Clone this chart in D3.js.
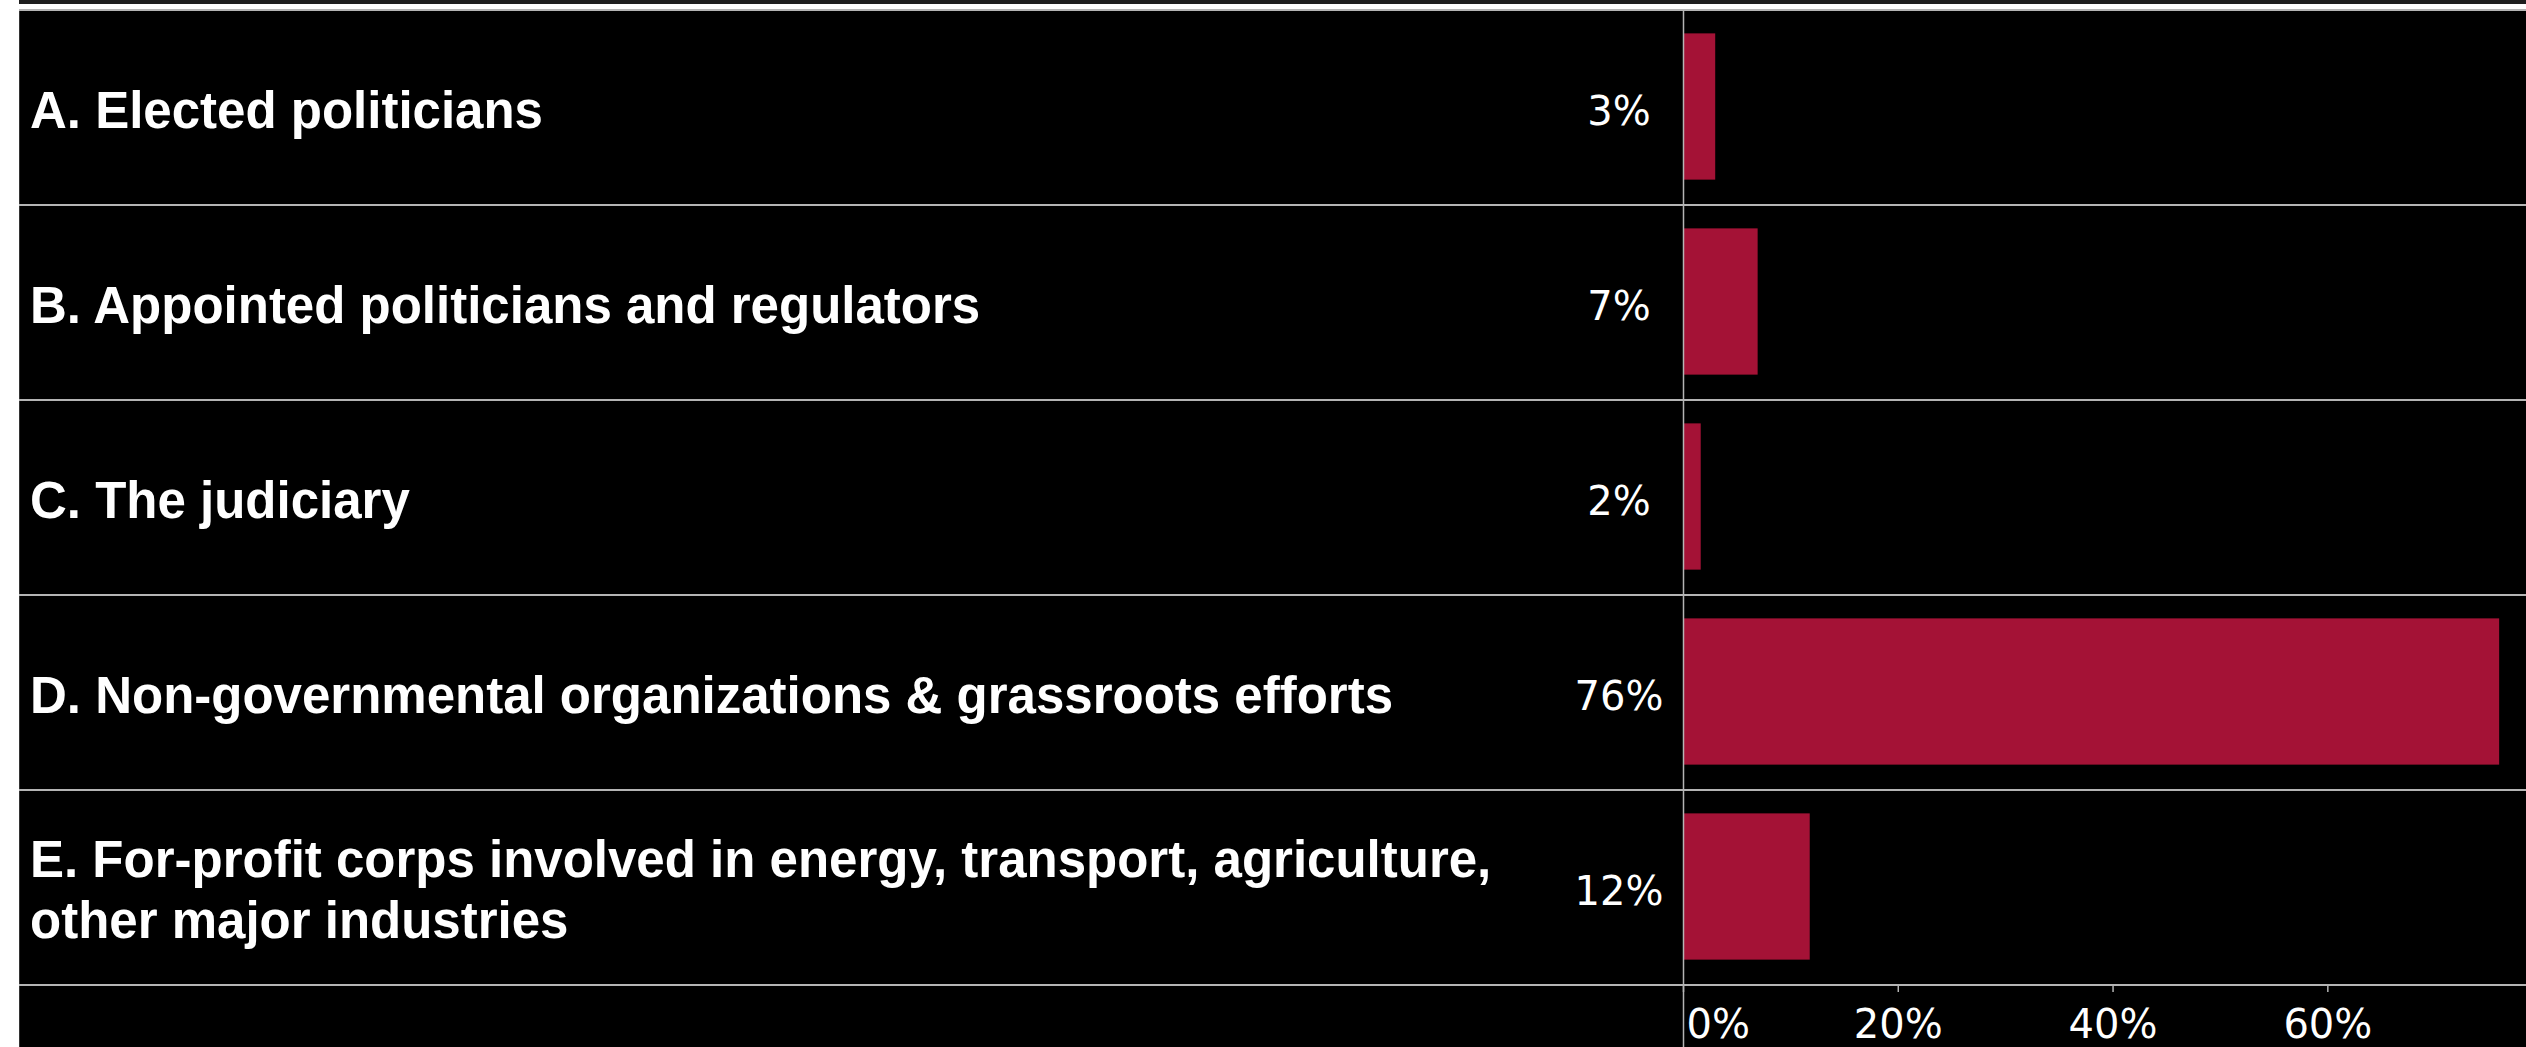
<!DOCTYPE html>
<html>
<head>
<meta charset="utf-8">
<script src="https://cdn.jsdelivr.net/npm/d3@7"></script>
<style>
  html, body { margin: 0; padding: 0; background: #ffffff; overflow: hidden; }
  svg { display: block; }
</style>
</head>
<body>
<svg id="chart" width="2526" height="1047"></svg>
<script>
// ---- data ----
const categories = ["A", "B", "C", "D", "E"];
const labels = [
  ["A. Elected politicians"],
  ["B. Appointed politicians and regulators"],
  ["C. The judiciary"],
  ["D. Non-governmental organizations & grassroots efforts"],
  ["E. For-profit corps involved in energy, transport, agriculture,", "other major industries"]
];
const values = [0.030, 0.0695, 0.0165, 0.760, 0.118];
const tickValues = [0, 0.2, 0.4, 0.6];

(function () {
  // ---- layout ----
  const W = 2526, H = 1047;
  const padLeft = 19, padTop = 10, rowsBottom = 985;
  const axisX = 1683;
  const pctCenter = 1619;

  const svg = d3.select("#chart");

  // background panels
  svg.append("rect").attr("x", padLeft).attr("y", 0).attr("width", W - padLeft).attr("height", 4).attr("fill", "#1e1e1e");
  svg.append("rect").attr("x", padLeft).attr("y", padTop).attr("width", W - padLeft).attr("height", H - padTop).attr("fill", "#000000");
  svg.append("line").attr("x1", padLeft + 0.5).attr("x2", padLeft + 0.5).attr("y1", padTop).attr("y2", H)
    .attr("stroke", "#333").attr("stroke-width", 1);

  const y = d3.scaleBand().domain(categories).range([padTop, rowsBottom]).paddingInner(0.25).paddingOuter(0.125);
  const x = d3.scaleLinear().domain([0, 0.785]).range([axisX, W]);
  const fmt = d3.format(".0%");

  // row separators
  const bounds = categories.map(c => y(c) - y.step() * y.paddingInner() / 2);
  bounds.push(rowsBottom);
  svg.append("g").selectAll("line").data(bounds).join("line")
    .attr("x1", padLeft).attr("x2", W)
    .attr("y1", d => Math.round(d)).attr("y2", d => Math.round(d))
    .attr("stroke", "#b4b4b4").attr("stroke-width", 2);

  // bars
  svg.append("g").selectAll("rect").data(values).join("rect")
    .attr("x", x(0))
    .attr("y", (d, i) => y(categories[i]) - 1)
    .attr("width", d => x(d) - x(0))
    .attr("height", y.bandwidth())
    .attr("fill", "#a41236");

  // vertical divider at zero
  svg.append("line").attr("x1", axisX + 0.5).attr("x2", axisX + 0.5).attr("y1", padTop).attr("y2", H)
    .attr("stroke", "#b4b4b4").attr("stroke-width", 1.5);

  // category labels
  const lab = svg.append("g").selectAll("text").data(labels).join("text")
    .attr("x", 30)
    .attr("y", (d, i) => y(categories[i]) + y.bandwidth() / 2 + 1)
    .attr("fill", "#ffffff")
    .attr("font-family", "'Liberation Sans', Arial, sans-serif")
    .attr("font-weight", "bold")
    .attr("font-size", 51);
  lab.each(function (lines) {
    const t = d3.select(this);
    const lh = 61;
    const n = lines.length;
    lines.forEach((ln, k) => {
      t.append("tspan").attr("x", 30)
        .attr("dy", k === 0 ? ((-(n - 1) / 2) * lh + 19) : lh)
        .text(ln);
    });
  });

  // percent value labels
  svg.append("g").selectAll("text").data(values).join("text")
    .attr("x", pctCenter)
    .attr("y", (d, i) => y(categories[i]) + y.bandwidth() / 2 + 17)
    .attr("text-anchor", "middle")
    .attr("fill", "#ffffff")
    .attr("font-family", "'DejaVu Sans', sans-serif")
    .attr("font-size", 40)
    .text(d => fmt(d));

  // x axis
  const ax = svg.append("g").attr("transform", `translate(0,${rowsBottom})`)
    .call(d3.axisBottom(x).tickValues(tickValues).tickFormat(fmt).tickSize(7).tickPadding(18));
  ax.select(".domain").remove();
  ax.selectAll(".tick line").attr("stroke", "#b4b4b4").attr("stroke-width", 1.5);
  ax.selectAll(".tick text")
    .attr("fill", "#ffffff")
    .attr("font-family", "'DejaVu Sans', sans-serif")
    .attr("font-size", 40)
    .attr("dy", "0.71em");
  ax.selectAll(".tick").filter(d => d === 0).select("text")
    .attr("text-anchor", "start").attr("x", 3);
})();
</script>
</body>
</html>
